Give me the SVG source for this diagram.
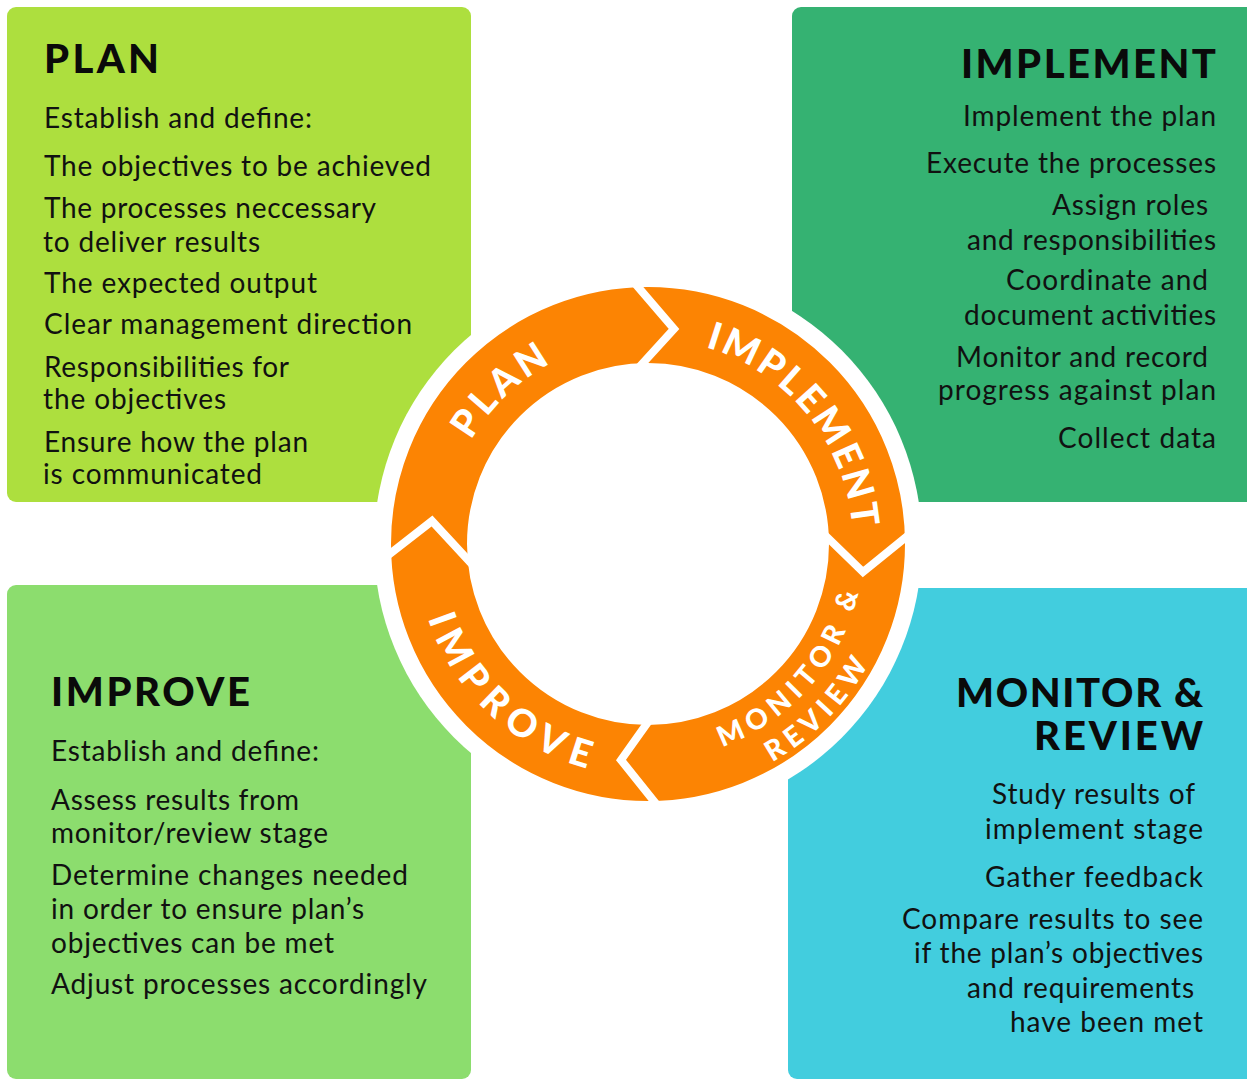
<svg xmlns="http://www.w3.org/2000/svg" width="1247" height="1080" viewBox="0 0 1247 1080">
<style>
.body{font-family:Lato,"Noto Sans",sans-serif;font-size:28px;fill:#111}
.title{font-family:Lato,"Noto Sans",sans-serif;font-weight:900;font-size:40px;fill:#0a0a0a}
.ring{font-family:Lato,"Noto Sans",sans-serif;font-weight:900;font-size:38px;fill:#fff}
.ring2{font-family:Lato,"Noto Sans",sans-serif;font-weight:900;font-size:28px;fill:#fff}
.sep{fill:none;stroke:#fff;stroke-width:8;stroke-linejoin:miter}
</style>
<defs>
<path id="pPlan" d="M446.1,508.4 A205,205 0 0 1 619.5,341.0"/>
<path id="pImpl" d="M668.7,340.0 A205,205 0 0 1 851.9,564.7"/>
<path id="pMon" d="M666.8,759.2 A216,216 0 0 0 863.9,536.5"/>
<path id="pRev" d="M691.6,791.2 A251,251 0 0 0 895.9,583.3"/>
<path id="pImp" d="M419.6,587.2 A232.5,232.5 0 0 0 618.5,774.6"/>
</defs>
<rect width="1247" height="1080" fill="#fff"/>

<g id="plan">
<rect x="7" y="7" width="464" height="495" rx="9" fill="#ADDF3E"/>
<text class="title" x="44" y="73" textLength="115">PLAN</text>
<text class="body" x="44" y="128" textLength="268">Establish and define:</text>
<text class="body" x="44" y="176" textLength="387">The objectives to be achieved</text>
<text class="body" x="44" y="218" textLength="332">The processes neccessary</text>
<text class="body" x="43" y="252" textLength="217">to deliver results</text>
<text class="body" x="44" y="293" textLength="273">The expected output</text>
<text class="body" x="44" y="334" textLength="368">Clear management direction</text>
<text class="body" x="44" y="377" textLength="245">Responsibilities for</text>
<text class="body" x="43" y="409" textLength="183">the objectives</text>
<text class="body" x="44" y="452" textLength="264">Ensure how the plan</text>
<text class="body" x="43" y="484" textLength="219">is communicated</text>
</g>

<g id="implement">
<rect x="792" y="7" width="470" height="495" rx="9" fill="#35B272"/>
<text class="title" x="961" y="78" textLength="255">IMPLEMENT</text>
<text class="body" x="963" y="126" textLength="253">Implement the plan</text>
<text class="body" x="926" y="173" textLength="290">Execute the processes</text>
<text class="body" x="1052" y="215" textLength="156">Assign roles</text>
<text class="body" x="967" y="250" textLength="249">and responsibilities</text>
<text class="body" x="1006" y="290" textLength="202">Coordinate and</text>
<text class="body" x="964" y="325" textLength="252">document activities</text>
<text class="body" x="956" y="367" textLength="252">Monitor and record</text>
<text class="body" x="938" y="400" textLength="278">progress against plan</text>
<text class="body" x="1058" y="448" textLength="158">Collect data</text>
</g>

<g id="monitor-review">
<rect x="788" y="588" width="474" height="491" rx="9" fill="#42CDDE"/>
<text class="title" x="956" y="707" textLength="247">MONITOR &amp;</text>
<text class="title" x="1034" y="750" textLength="169">REVIEW</text>
<text class="body" x="992" y="804" textLength="203">Study results of</text>
<text class="body" x="985" y="839" textLength="218">implement stage</text>
<text class="body" x="985" y="887" textLength="218">Gather feedback</text>
<text class="body" x="902" y="929" textLength="301">Compare results to see</text>
<text class="body" x="914" y="963" textLength="289">if the plan’s objectives</text>
<text class="body" x="967" y="998" textLength="227">and requirements</text>
<text class="body" x="1010" y="1032" textLength="193">have been met</text>
</g>

<g id="improve">
<rect x="7" y="585" width="464" height="494" rx="9" fill="#8CDD6E"/>
<text class="title" x="51" y="706" textLength="199">IMPROVE</text>
<text class="body" x="51" y="761" textLength="268">Establish and define:</text>
<text class="body" x="51" y="810" textLength="248">Assess results from</text>
<text class="body" x="51" y="843" textLength="277">monitor/review stage</text>
<text class="body" x="51" y="885" textLength="357">Determine changes needed</text>
<text class="body" x="51" y="919" textLength="313">in order to ensure plan’s</text>
<text class="body" x="51" y="953" textLength="283">objectives can be met</text>
<text class="body" x="51" y="994" textLength="376">Adjust processes accordingly</text>
</g>

<g id="connectors">
<circle cx="648" cy="544" r="274" fill="#fff"/>
<circle cx="648" cy="544" r="219" fill="none" stroke="#FC8403" stroke-width="76"/>
<polyline class="sep" points="631.5,279.4 674,329 635.3,371.4"/>
<polyline class="sep" points="912.8,531.7 863,572 822.8,533"/>
<polyline class="sep" points="653.8,713.9 621,760 659.2,807.8"/>
<polyline class="sep" points="383.1,559.2 432,521 474.8,567.3"/>
</g>

<g id="cycle-labels">
<text class="ring" text-anchor="middle"><textPath href="#pPlan" startOffset="50%" textLength="112">PLAN</textPath></text>
<text class="ring" text-anchor="middle"><textPath href="#pImpl" startOffset="50%" textLength="247">IMPLEMENT</textPath></text>
<text class="ring2" text-anchor="middle"><textPath href="#pMon" startOffset="50%" textLength="214">MONITOR &amp;</textPath></text>
<text class="ring2" text-anchor="middle"><textPath href="#pRev" startOffset="50%" textLength="139">REVIEW</textPath></text>
<text class="ring" text-anchor="middle"><textPath href="#pImp" startOffset="50%" textLength="228">IMPROVE</textPath></text>
</g>
</svg>
